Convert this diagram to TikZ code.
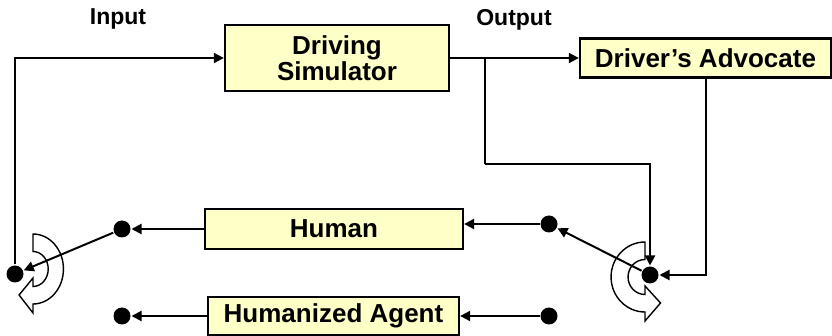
\documentclass[tikz,border=0pt]{standalone}
\usepackage{fontspec}
\setmainfont{Liberation Sans}
\usetikzlibrary{arrows.meta}
\definecolor{boxyellow}{HTML}{FFFFC8}

\begin{document}
\begin{tikzpicture}[x=1pt,y=-1pt,line width=2pt,
  >={Triangle[length=10pt,width=10pt]},
  block/.style={draw,line width=2.3pt,fill=boxyellow,inner sep=0pt,align=center,
    font=\fontsize{26}{26}\selectfont\bfseries},
  dot/.style={circle,fill=black,inner sep=0pt,minimum size=17pt},
  lbl/.style={font=\fontsize{23}{23}\selectfont\bfseries},
  wendepfeil/.style={draw,fill=white,line width=1.4pt,line join=miter}]
\useasboundingbox (0,0) rectangle (832,336);
\def\wende#1#2{\path[wendepfeil,shift={(#1)},xscale=#2] (0,-35) arc[start angle=-90,end angle=90,radius=35]
  -- (0,44) -- (-16,26) -- (0,9) -- (0,17.5) arc[start angle=90,end angle=-90,radius=17.5] -- cycle;}
\def\pfeil#1#2{\draw[->] (#1) -- (#2);}

\wende{33,269}{0.87}
\wende{645,277}{-0.97}

\node at (118,19) (input) [lbl] {Input};
\node at (514,20) (output) [lbl] {Output};
\node at (337,58) (sim) [block,minimum width=224pt,minimum height=66pt] {Driving\\Simulator};
\node at (705.5,58) (adv) [block,minimum width=251pt,minimum height=39pt] {Driver’s Advocate};
\node at (334,229) (human) [block,minimum width=258pt,minimum height=40pt] {Human};
\node at (333.5,316) (agent) [block,minimum width=251pt,minimum height=38pt] {Humanized Agent};

\node at (15,274) (sw) [dot] {};
\node at (650,275) (so) [dot] {};
\node at (122,229) (hl) [dot] {};
\node at (549,224) (hr) [dot] {};
\node at (122,316) (al) [dot] {};
\node at (549,316) (ar) [dot] {};
\coordinate (abzw) at (485,58);
\coordinate (knick) at (485,164);

\draw[->] (sw) |- (sim.west);
\pfeil{sim.east}{adv.west}
\draw (abzw) -- (knick);
\draw[->] (knick) -| (so);
\draw[->] (adv.south) |- (so);
\pfeil{so}{hr}
\pfeil{hr}{hr -| human.east}
\pfeil{human.west}{hl}
\pfeil{hl}{sw}
\pfeil{ar}{agent.east}
\pfeil{agent.west}{al}
\end{tikzpicture}
\end{document}
